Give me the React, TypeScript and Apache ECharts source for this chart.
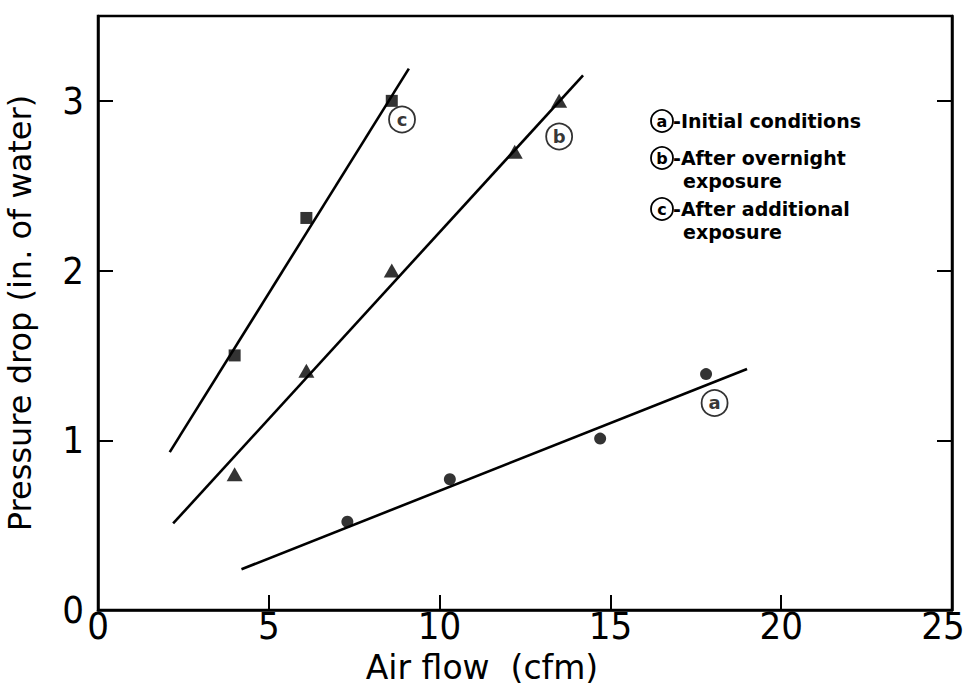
import React, { useEffect, useRef } from "react";
import * as echarts from "echarts";

// Data
const xTicks = [0, 5, 10, 15, 20, 25];
const yTicks = [0, 1, 2, 3];

const initialX = [7.3, 10.3, 14.7, 17.8];
const initialY = [0.52, 0.77, 1.01, 1.39];

const overnightX = [4.0, 6.1, 8.6, 12.2, 13.5];
const overnightY = [0.8, 1.41, 2.0, 2.7, 3.0];

const additionalX = [4.0, 6.1, 8.6];
const additionalY = [1.5, 2.31, 3.0];

// fitted straight lines (end points as drawn)
const fitA = [[4.2, 0.24], [19.0, 1.42]];
const fitB = [[2.2, 0.51], [14.2, 3.15]];
const fitC = [[2.1, 0.93], [9.1, 3.19]];

// circled letters next to the lines
const tagLetters = ["a", "b", "c"];
const tagX = [18.05, 13.5, 8.9];
const tagY = [1.22, 2.79, 2.89];

const legendLetters = ["a", "b", "c"];
const legendLines = [
  ["-Initial conditions"],
  ["-After overnight", "exposure"],
  ["-After additional", "exposure"],
];

const FONT = "'DejaVu Sans', sans-serif";
const NARROW = "'Liberation Sans Narrow', 'DejaVu Sans Condensed', sans-serif";

export default function App() {
  const ref = useRef<HTMLDivElement>(null);

  useEffect(() => {
    if (!ref.current) return;
    const chart = echarts.init(ref.current, null, { renderer: "svg" });

    const zip = (xs: number[], ys: number[]) => xs.map((x, i) => [x, ys[i]]);

    const legendGraphics: any[] = [];
    const rowY = [121, 158, 209];
    const lineGap = 22.5;
    legendLetters.forEach((l, i) => {
      legendGraphics.push({
        type: "circle",
        shape: { cx: 662, cy: rowY[i], r: 11 },
        style: { fill: "#fff", stroke: "#000", lineWidth: 1.8 },
      });
      legendGraphics.push({
        type: "text",
        x: 662,
        y: rowY[i],
        style: {
          text: l,
          fill: "#000",
          font: `bold 16px ${FONT}`,
          align: "center",
          verticalAlign: "middle",
        },
      });
      legendLines[i].forEach((t, j) => {
        legendGraphics.push({
          type: "text",
          x: j === 0 ? 673 : 683,
          y: rowY[i] + j * lineGap,
          style: {
            text: t,
            fill: "#000",
            font: `bold 19px ${FONT}`,
            align: "left",
            verticalAlign: "middle",
          },
        });
      });
    });

    const lineSeries = (d: number[][]) => ({
      type: "line",
      data: d,
      symbol: "none",
      lineStyle: { color: "#000", width: 2.6 },
      silent: true,
      z: 2,
    });

    const tickFont = { fontFamily: NARROW, fontSize: 38, lineHeight: 32, color: "#000" };

    chart.setOption({
      animation: false,
      backgroundColor: "#fff",
      grid: {
        left: 98,
        right: 14,
        top: 16,
        bottom: 77,
        show: true,
        borderColor: "#000",
        borderWidth: 2.5,
        containLabel: false,
        outerBoundsMode: "none",
      },
      xAxis: {
        type: "value",
        min: xTicks[0],
        max: xTicks[xTicks.length - 1],
        interval: 5,
        name: "Air flow  (cfm)",
        nameLocation: "middle",
        nameGap: 40,
        nameMoveOverlap: false,
        nameTextStyle: {
          fontFamily: FONT,
          fontSize: 33,
          lineHeight: 34,
          color: "#000",
          padding: [0, 86, 0, 0],
        },
        axisLine: { show: true, lineStyle: { color: "#000", width: 2.5 } },
        axisTick: { show: true, inside: true, length: 15, lineStyle: { color: "#000", width: 2 } },
        axisLabel: {
          ...tickFont,
          margin: 0,
          formatter: (v: number) =>
            v === xTicks[xTicks.length - 1] ? `{last|${v}}` : String(v),
          rich: { last: { ...tickFont, padding: [0, 18, 0, 0] } },
        },
        splitLine: { show: false },
      },
      yAxis: [
        {
          type: "value",
          min: yTicks[0],
          max: 3.5,
          interval: 1,
          name: "Pressure drop (in. of water)",
          nameLocation: "middle",
          nameGap: 61,
          nameMoveOverlap: false,
          nameTextStyle: { fontFamily: FONT, fontSize: 32, lineHeight: 34, color: "#000" },
          axisLine: { show: true, lineStyle: { color: "#000", width: 2.5 } },
          axisTick: { show: true, inside: true, length: 15, lineStyle: { color: "#000", width: 2 } },
          axisLabel: {
            ...tickFont,
            margin: 14,
            showMaxLabel: false,
            formatter: (v: number) => (yTicks.includes(v) ? String(v) : ""),
          },
          splitLine: { show: false },
        },
        {
          type: "value",
          min: yTicks[0],
          max: 3.5,
          interval: 1,
          position: "right",
          axisLine: { show: true, lineStyle: { color: "#000", width: 2.5 } },
          axisTick: { show: true, inside: true, length: 15, lineStyle: { color: "#000", width: 2 } },
          axisLabel: { show: false },
          splitLine: { show: false },
        },
      ],
      graphic: legendGraphics,
      series: [
        lineSeries(fitA),
        lineSeries(fitB),
        lineSeries(fitC),
        {
          type: "scatter",
          name: "Initial conditions",
          data: zip(initialX, initialY),
          symbol: "circle",
          symbolSize: 12,
          itemStyle: { color: "#000" },
          z: 3,
        },
        {
          type: "scatter",
          name: "After overnight exposure",
          data: zip(overnightX, overnightY),
          symbol: "triangle",
          symbolSize: [16, 14],
          itemStyle: { color: "#000" },
          z: 3,
        },
        {
          type: "scatter",
          name: "After additional exposure",
          data: zip(additionalX, additionalY),
          symbol: "rect",
          symbolSize: 12,
          itemStyle: { color: "#000" },
          z: 3,
        },
        {
          type: "scatter",
          data: tagLetters.map((l, i) => [tagX[i], tagY[i], l]),
          symbol: "circle",
          symbolSize: 26,
          itemStyle: { color: "#fff", borderColor: "#000", borderWidth: 1.8 },
          label: {
            show: true,
            position: "inside",
            formatter: (p: any) => p.value[2],
            fontFamily: FONT,
            fontSize: 18,
            fontWeight: "bold",
            color: "#000",
          },
          z: 4,
        },
      ],
    });

    return () => chart.dispose();
  }, []);

  return (
    <div
      ref={ref}
      style={{ position: "fixed", left: 0, top: 0, width: 966, height: 687, background: "#fff" }}
    />
  );
}
